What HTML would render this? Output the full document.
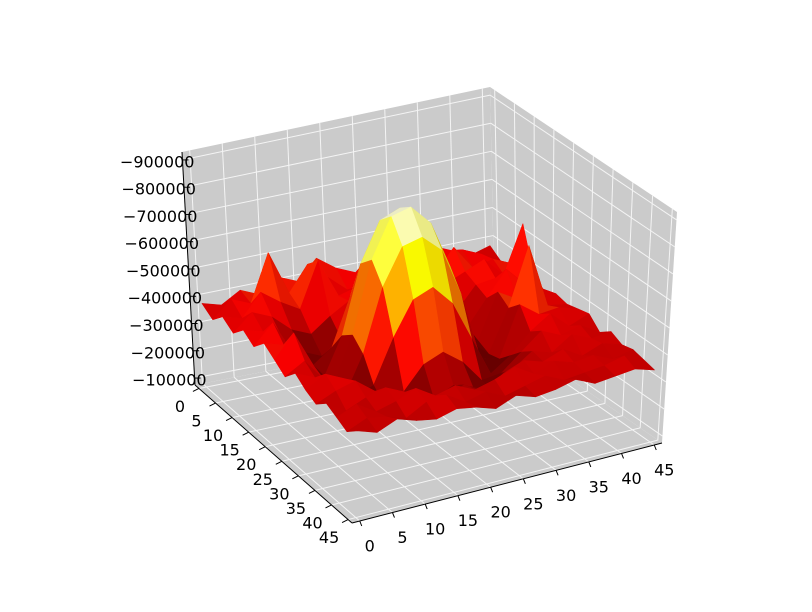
<!DOCTYPE html>
<html><head><meta charset="utf-8"><style>
html,body{margin:0;padding:0;background:#fff;}
svg{display:block;font-family:"DejaVu Sans","Liberation Sans",sans-serif;}
</style></head><body>
<svg id="chart" width="812" height="612" viewBox="0 0 812 612" xmlns="http://www.w3.org/2000/svg">
<g id="panes"></g>
<g id="grid"></g>
<g id="surface"></g>
<g id="axes"></g>
</svg>
<script>
const xTicks=[0,5,10,15,20,25,30,35,40,45];
const yTicks=[0,5,10,15,20,25,30,35,40,45];
const zTickLabels=["\u2212100000","\u2212200000","\u2212300000","\u2212400000","\u2212500000","\u2212600000","\u2212700000","\u2212800000","\u2212900000"];
const zTickValues=[1,2,3,4,5,6,7,8,9];
const gridX=[0,3,6,9,12,15,18,21,24,27,30,33,36,39,42,45];
const gridY=[0,3,6,9,12,15,18,21,24,27,30,33,36,39,42,45];
// surface height rows (by y), in units of 100000
const zRows=[
[3.8,3.6,4.0,3.7,4.2,3.9,4.6,4.1,3.8,4.3,4.0,3.7,4.2,3.9,3.6,3.8],
[3.5,4.1,3.8,5.5,3.9,4.8,4.2,3.6,4.5,4.9,3.8,4.1,3.7,4.2,3.9,3.5],
[3.9,3.7,4.5,4.0,3.6,5.2,3.8,4.0,3.7,4.4,4.2,3.9,4.7,3.8,4.0,3.7],
[3.6,4.2,3.9,3.3,3.0,3.5,3.9,4.3,3.6,3.2,3.4,3.8,4.1,4.4,3.7,5.4],
[4.0,3.8,3.4,2.8,2.5,3.0,4.6,5.2,4.4,2.9,2.6,3.1,3.9,4.0,3.6,3.8],
[3.7,4.4,3.2,2.6,3.1,4.8,6.4,6.8,6.0,4.2,2.5,2.8,3.7,4.6,3.9,3.5],
[4.1,3.9,3.0,2.4,3.8,6.2,7.6,7.9,7.2,5.4,2.9,2.6,4.2,3.8,4.1,3.7],
[3.8,4.6,3.3,2.5,4.1,6.6,8.0,8.2,7.5,5.8,3.0,2.4,3.9,6.0,3.7,3.6],
[3.5,3.9,3.1,2.3,3.7,5.9,7.2,7.4,6.8,5.1,2.7,2.5,4.3,3.8,3.9,3.7],
[3.9,3.6,3.4,2.6,2.9,4.4,5.6,5.9,5.2,3.8,2.4,2.9,3.6,4.1,3.5,3.8],
[3.6,4.0,3.7,3.0,2.5,2.8,3.6,3.9,3.4,2.6,2.7,3.3,3.9,3.6,3.8,3.4],
[3.4,3.7,3.9,3.4,2.9,2.6,2.7,3.0,2.8,2.5,3.1,3.6,3.4,3.9,3.6,3.7],
[3.7,3.3,3.6,3.8,3.5,3.2,3.0,3.3,2.9,3.4,3.7,3.5,3.8,3.4,3.7,3.5],
[3.5,3.8,3.4,3.6,3.9,3.5,3.7,3.4,3.6,3.9,3.5,3.8,3.6,3.7,3.4,3.6],
[3.3,3.6,3.5,3.3,3.7,3.8,3.4,3.6,3.3,3.5,3.7,3.4,3.5,3.6,3.8,3.5],
[3.6,3.4,3.7,3.5,3.4,3.6,3.5,3.3,3.6,3.4,3.5,3.7,3.4,3.5,3.6,3.4]];
const NS="http://www.w3.org/2000/svg";
const B={"00":[195,385],"10":[495,327],"11":[662,443],"01":[352,523]};
const T={"00":[182,152],"10":[490,87],"11":[677,212],"01":[357,262]};
const ZMIN=0.744,ZMAX=9.29;
function lerp(a,b,t){return [a[0]+(b[0]-a[0])*t,a[1]+(b[1]-a[1])*t];}
function P(fx,fy,fz){
  const b=lerp(lerp(B["00"],B["10"],fx),lerp(B["01"],B["11"],fx),fy);
  const t=lerp(lerp(T["00"],T["10"],fx),lerp(T["01"],T["11"],fx),fy);
  return lerp(b,t,fz);
}
function sx(v){return 0.025+0.95*v/45;}
function sz(v){return (v-ZMIN)/(ZMAX-ZMIN);}
function mk(tag,attrs,parent){const e=document.createElementNS(NS,tag);for(const k in attrs)e.setAttribute(k,attrs[k]);parent.appendChild(e);return e;}
function pts(a){return a.map(p=>p[0].toFixed(1)+","+p[1].toFixed(1)).join(" ");}
const panes=document.getElementById('panes');
const pc="#cbcbcb";
let e;
e=mk('polygon',{points:pts([P(0,0,0),P(1,0,0),P(1,1,0),P(0,1,0)]),fill:pc},panes);


e=mk('polygon',{points:pts([P(0,0,0),P(1,0,0),P(1,0,1),P(0,0,1)]),fill:pc},panes);


e=mk('polygon',{points:pts([P(1,0,0),P(1,1,0),P(1,1,1),P(1,0,1)]),fill:pc},panes);


const grid=document.getElementById('grid');
function gl(a,b){const l=mk('line',{x1:a[0],y1:a[1],x2:b[0],y2:b[1],stroke:"#f4f4f4","stroke-width":1},grid);

}
xTicks.forEach(v=>{const f=sx(v);gl(P(f,0,0),P(f,1,0));gl(P(f,0,0),P(f,0,1));});
yTicks.forEach(v=>{const f=sx(v);gl(P(0,f,0),P(1,f,0));gl(P(1,f,0),P(1,f,1));});
zTickValues.forEach(v=>{const f=sz(v);gl(P(0,0,f),P(1,0,f));gl(P(1,0,f),P(1,1,f));});
let zmx=-Infinity;zRows.forEach(r=>r.forEach(v=>{zmx=Math.max(zmx,v);}));
const zmn=1.6;
function hot(t,s){t=Math.max(0,Math.min(1,t));const r=Math.min(1,t/0.365),g=Math.max(0,Math.min(1,(t-0.365)/0.381)),b=Math.max(0,Math.min(1,(t-0.746)/0.254));
return "rgb("+Math.round(r*255*s)+","+Math.round(g*255*s)+","+Math.round(b*255*s)+")";}
const faces=[];
for(let j=0;j<gridY.length-1;j++)for(let i=0;i<gridX.length-1;i++){
  const c=[[i,j],[i+1,j],[i+1,j+1],[i,j+1]];
  const zs=c.map(q=>zRows[q[1]][q[0]]);
  const avg=zs.reduce((a,b)=>a+b)/4;
  faces.push({c,zs,avg,depth:(i+0.5)-(j+0.5)});
}
faces.sort((a,b)=>b.depth-a.depth);
const surf=document.getElementById('surface');
const L=[-0.5,0.5,0.707];
faces.forEach(f=>{
  const p=f.c.map((q,k)=>P(sx(gridX[q[0]]),sx(gridY[q[1]]),sz(f.zs[k])));
  const dzdx=((f.zs[1]+f.zs[2])-(f.zs[0]+f.zs[3]))/2, dzdy=((f.zs[2]+f.zs[3])-(f.zs[0]+f.zs[1]))/2;
  const n=[-dzdx*0.8,-dzdy*0.8,1];const nl=Math.hypot(n[0],n[1],n[2]);
  const d=(n[0]*L[0]+n[1]*L[1]+n[2]*L[2])/nl;
  const s=0.8+0.2*Math.max(0,Math.min(1,d));
  const col=hot((f.avg-zmn)/(zmx-zmn),s);
  const poly=mk('polygon',{points:pts(p),fill:col,stroke:col,"stroke-width":0.6,"stroke-linejoin":"round"},surf);
  
  
});
const ax=document.getElementById('axes');
function line(a,b,name){const l=mk('line',{x1:a[0],y1:a[1],x2:b[0],y2:b[1],stroke:"#000","stroke-width":1},ax);

}
line(P(0,1,0),P(1,1,0),'x-axis-line');
line(P(0,0,0),P(0,1,0),'y-axis-line');
line(P(0,0,0),P(0,0,1),'z-axis-line');
function txt(x,y,s,anchor,name){const t=mk('text',{x:x,y:y,"font-size":16,fill:"#000","text-anchor":anchor,"dominant-baseline":"middle"},ax);t.textContent=s;

}
xTicks.forEach(v=>{const f=sx(v);const a=P(f,1,0);line(a,[a[0]+2,a[1]+5],'x-tick');txt(a[0]+10,a[1]+26,String(v),"middle",'x-tick-label');});
yTicks.forEach(v=>{const f=sx(v);const a=P(0,f,0);line(a,[a[0]-6,a[1]+3],'y-tick');txt(a[0]-19,a[1]+19,String(v),"middle",'y-tick-label');});
zTickValues.forEach((v,k)=>{const f=sz(v);const a=P(0,0,f);line(a,[a[0]+6,a[1]],'z-tick');txt(a[0]+12,a[1]+3,zTickLabels[k],"end",'z-tick-label');});
</script>
</body></html>
